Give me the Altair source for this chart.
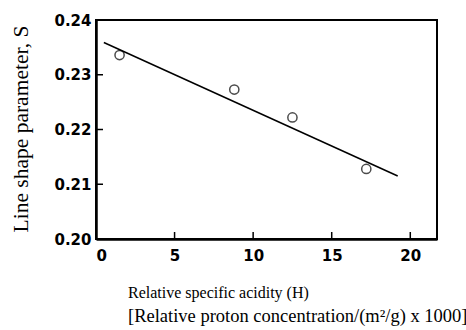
import altair as alt
import pandas as pd

# Data
acidity = [1.5, 8.8, 12.5, 17.2]
shape_s = [0.2336, 0.2273, 0.2222, 0.2128]

fit_x = [0.5, 19.2]
fit_y = [0.2359, 0.2115]

x_ticks = [0, 5, 10, 15, 20]
y_ticks = [0.20, 0.21, 0.22, 0.23, 0.24]

x_title_1 = "Relative specific acidity (H)"
x_title_2 = "[Relative proton concentration/(m²/g) x 1000]"
y_title = "Line shape parameter, S"

pts = pd.DataFrame({"H": acidity, "S": shape_s})
fit = pd.DataFrame({"H": fit_x, "S": fit_y})
xt = pd.DataFrame({"H": x_ticks[1:], "S": [y_ticks[0]] * (len(x_ticks) - 1)})
yt = pd.DataFrame({"H": [x_ticks[0]] * (len(y_ticks) - 2), "S": y_ticks[1:-1]})

xscale = alt.Scale(domain=[0, 21.7], nice=False, zero=False)
yscale = alt.Scale(domain=[0.20, 0.24], nice=False, zero=False)

xaxis = alt.Axis(
    values=x_ticks, format="d", ticks=False,
    labelFont="DejaVu Sans", labelFontWeight="bold", labelFontSize=15,
    labelColor="black", labelPadding=9, domainColor="black", domainWidth=2.5,
    grid=False, title=None,
)
yaxis = alt.Axis(
    values=y_ticks, format=".2f", ticks=False,
    labelFont="DejaVu Sans", labelFontWeight="bold", labelFontSize=15,
    labelColor="black", labelPadding=5, domainColor="black", domainWidth=2.5,
    grid=False, title=None,
)

line = alt.Chart(fit).mark_line(color="black", strokeWidth=1.5).encode(
    x=alt.X("H:Q", scale=xscale, axis=xaxis),
    y=alt.Y("S:Q", scale=yscale, axis=yaxis),
)
points = alt.Chart(pts).mark_point(
    shape="circle", filled=False, color="black", size=85, strokeWidth=1.5
).encode(
    x=alt.X("H:Q", scale=xscale),
    y=alt.Y("S:Q", scale=yscale),
)
xticks_m = alt.Chart(xt).mark_rule(color="black", strokeWidth=1.5).encode(
    x=alt.X("H:Q", scale=xscale), y=alt.Y("S:Q", scale=yscale), y2=alt.value(212)
)
yticks_m = alt.Chart(yt).mark_rule(color="black", strokeWidth=1.5).encode(
    x=alt.X("H:Q", scale=xscale), y=alt.Y("S:Q", scale=yscale), x2=alt.value(7)
)

t1 = alt.Chart(pd.DataFrame({"t": [x_title_1]})).mark_text(
    font="Liberation Serif", fontSize=16, color="black", align="left",
    baseline="alphabetic"
).encode(x=alt.value(32), y=alt.value(278), text="t:N")
t2 = alt.Chart(pd.DataFrame({"t": [x_title_2]})).mark_text(
    font="Liberation Serif", fontSize=18.5, color="black", align="left",
    baseline="alphabetic"
).encode(x=alt.value(32), y=alt.value(302), text="t:N")
t3 = alt.Chart(pd.DataFrame({"t": [y_title]})).mark_text(
    font="Liberation Serif", fontSize=21.5, color="black", align="center",
    baseline="alphabetic", angle=270
).encode(x=alt.value(-68), y=alt.value(109), text="t:N")

chart = (line + points + xticks_m + yticks_m + t1 + t2 + t3).properties(
    width=341, height=219,
    autosize=alt.AutoSizeParams(type="none"),
    padding={"left": 96, "top": 20, "right": 29, "bottom": 91},
    background="white",
).configure_view(stroke="black", strokeWidth=2)

chart.save("out.html", embed_options={"renderer": "svg", "actions": False})
